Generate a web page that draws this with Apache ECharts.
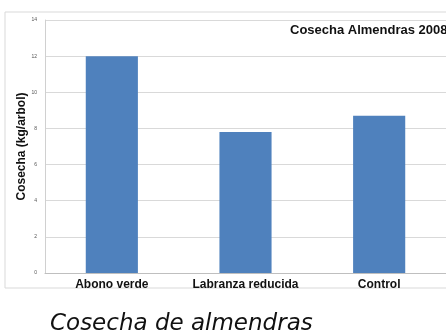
<!DOCTYPE html>
<html>
<head>
<meta charset="utf-8">
<script src="https://cdn.jsdelivr.net/npm/echarts@6/dist/echarts.min.js"></script>
<style>
	html, body { margin: 0; padding: 0; background: #fff; }
	#chart { width: 446px; height: 336px; }
</style>
</head>
<body>
<div id="chart"></div>
<script>
	// datos
	var categorias = ['Abono verde', 'Labranza reducida', 'Control'];
	var cosecha = [12, 7.8, 8.7];
	var ticksY = [0, 2, 4, 6, 8, 10, 12, 14];

	var myChart = echarts.init(document.getElementById('chart'));
	var option = {
		animation: false,
		graphic: [
			{
				type: 'rect',
				shape: { x: 5, y: 12, width: 460, height: 276 },
				style: { fill: 'none', stroke: '#d9d9d9', lineWidth: 1 }
			},
			{
				type: 'text',
				left: 290, top: 24,
				style: { text: 'Cosecha Almendras 2008', font: 'bold 13px "Liberation Sans"', fill: '#111' }
			},
			{
				type: 'text',
				left: 50, top: 313,
				style: { text: 'Cosecha de almendras', font: 'italic 23px "DejaVu Sans"', fill: '#111' }
			}
		],
		grid: { left: 45, top: 20, width: 405, height: 253 },
		xAxis: {
			type: 'category',
			data: categorias,
			axisLine: { lineStyle: { color: '#bfbfbf' } },
			axisTick: { show: false },
			axisLabel: { interval: 0, color: '#111', fontSize: 12, fontWeight: 'bold', fontFamily: 'Liberation Sans', margin: 6 }
		},
		yAxis: {
			type: 'value',
			min: ticksY[0],
			max: ticksY[ticksY.length - 1],
			interval: 2,
			name: 'Cosecha (kg/arbol)',
			nameLocation: 'middle',
			nameGap: 17,
			nameMoveOverlap: false,
			nameTextStyle: { color: '#111', fontSize: 12, fontWeight: 'bold', fontFamily: 'Liberation Sans' },
			axisLine: { show: true, lineStyle: { color: '#d0d0d0' } },
			axisTick: { show: false },
			axisLabel: { color: '#555', fontSize: 5, fontFamily: 'Liberation Sans', margin: 8 },
			splitLine: { lineStyle: { color: '#d9d9d9' } }
		},
		series: [
			{
				type: 'bar',
				data: cosecha,
				barWidth: '39%',
				itemStyle: { color: '#4f81bd' }
			}
		]
	};
	myChart.setOption(option);
</script>
</body>
</html>
